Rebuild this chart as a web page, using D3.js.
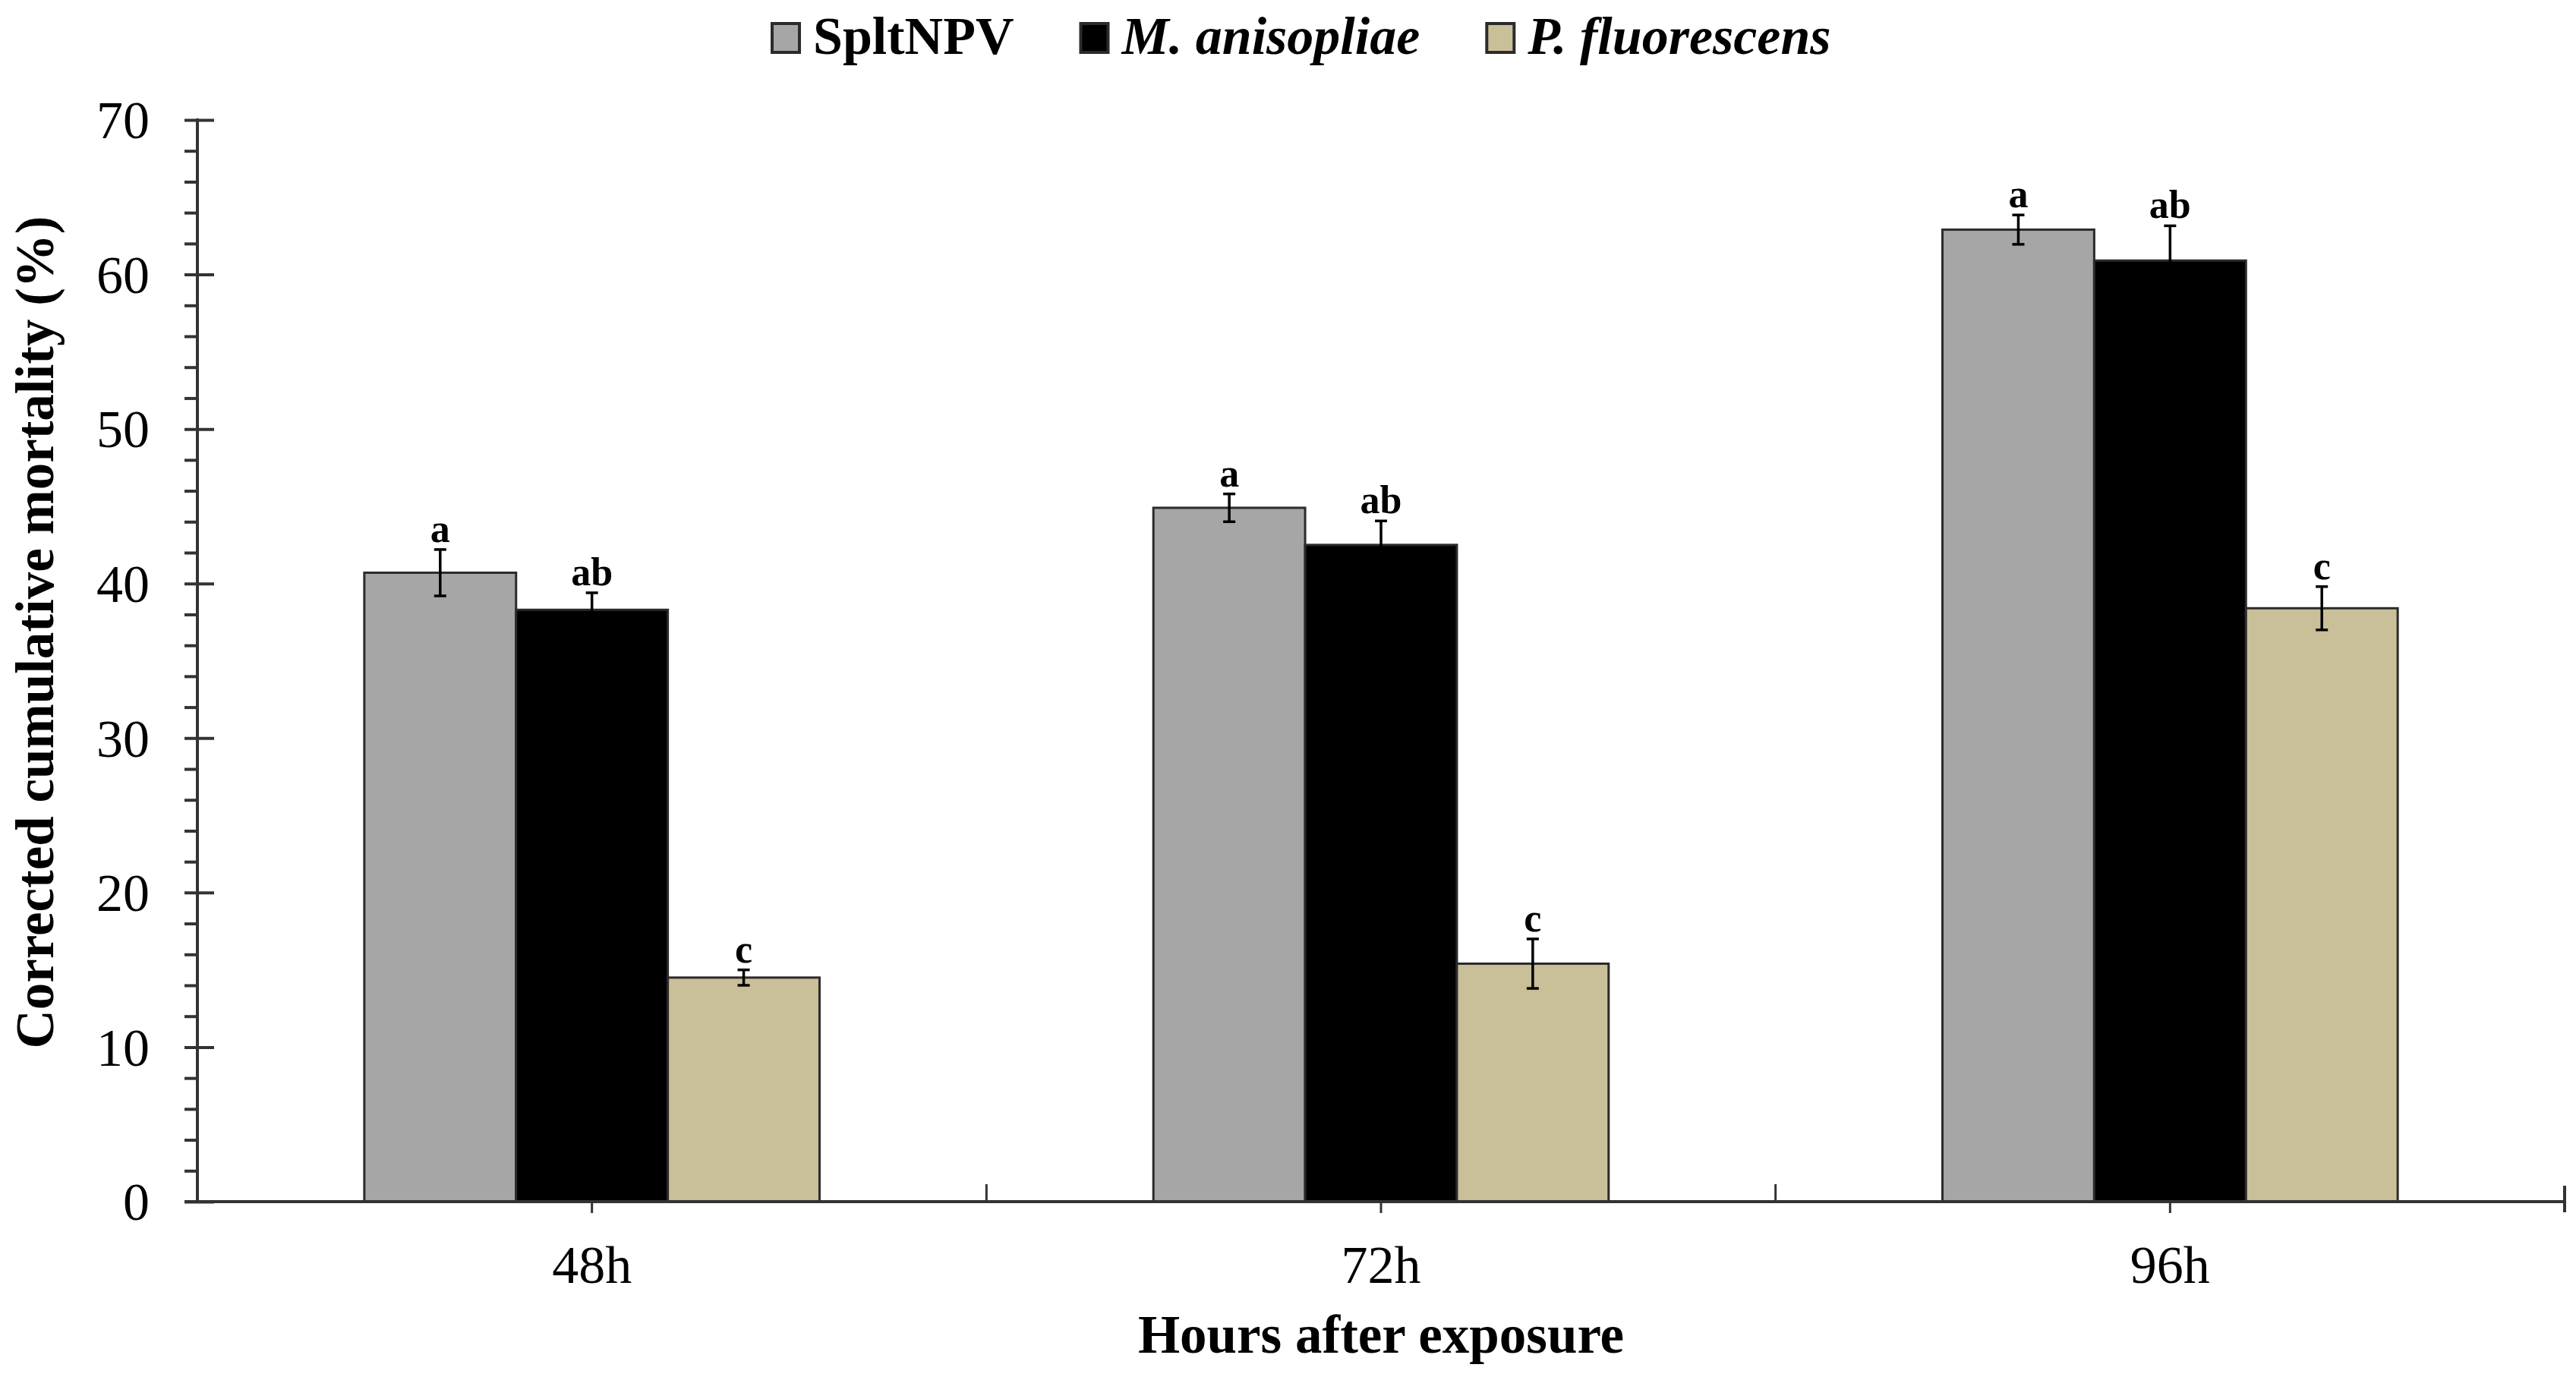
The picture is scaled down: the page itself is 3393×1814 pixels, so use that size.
<!DOCTYPE html>
<html>
<head>
<meta charset="utf-8">
<script src="https://cdn.jsdelivr.net/npm/d3@7"></script>
<style>
  body { margin: 0; background: #fff; }
  text { font-family: "Liberation Serif", "Times New Roman", serif; fill: #000; }
</style>
</head>
<body>
<script>
// data
const hours = ["48h", "72h", "96h"];
const series = ["SpltNPV", "M. anisopliae", "P. fluorescens"];
const spltnpv = [40.7, 44.9, 62.9];
const anisopliae = [38.3, 42.5, 60.9];
const fluorescens = [14.5, 15.4, 38.4];
const spltnpvErr = [1.5, 0.9, 0.95];
const anisopliaeErr = [1.1, 1.55, 2.25];
const fluorescensErr = [0.5, 1.6, 1.4];
const letters = ["a", "ab", "c"];
const yTicks = [0, 10, 20, 30, 40, 50, 60, 70];

const colors = ["#a6a6a6", "#000000", "#c9bf98"];
const italic = [false, true, true];

const W = 3393, H = 1814;
const margin = { top: 158, right: 15, bottom: 231, left: 260 };

const svg = d3.select("body").append("svg")
  .attr("width", W)
  .attr("height", H);

// scales
const x0 = d3.scaleBand()
  .domain(hours)
  .range([margin.left, W - margin.right])
  .paddingInner(0)
  .paddingOuter(0);

const x1 = d3.scaleBand()
  .domain(series)
  .range([0, x0.bandwidth()])
  .paddingInner(0)
  .paddingOuter(1.1);

const y = d3.scaleLinear()
  .domain([0, 70])
  .range([H - margin.bottom, margin.top]);

// build rows for bars
const values = [spltnpv, anisopliae, fluorescens];
const errs = [spltnpvErr, anisopliaeErr, fluorescensErr];
const rows = [];
hours.forEach((h, i) => {
  series.forEach((s, j) => {
    rows.push({ hour: h, series: s, idx: j, value: values[j][i], err: errs[j][i], letter: letters[j] });
  });
});

// bars
svg.append("g").selectAll("rect")
  .data(rows)
  .enter().append("rect")
  .attr("x", d => x0(d.hour) + x1(d.series))
  .attr("y", d => y(d.value))
  .attr("width", x1.bandwidth())
  .attr("height", d => y(0) - y(d.value))
  .attr("fill", d => colors[d.idx])
  .attr("stroke", "#2b2b2b")
  .attr("stroke-width", 3);

// error bars
const eb = svg.append("g").attr("stroke", "#000").attr("stroke-width", 3.5);
rows.forEach(d => {
  const cx = x0(d.hour) + x1(d.series) + x1.bandwidth() / 2;
  eb.append("line")
    .attr("x1", cx).attr("x2", cx)
    .attr("y1", y(d.value + d.err)).attr("y2", y(d.value - d.err));
  [d.value + d.err, d.value - d.err].forEach(v => {
    eb.append("line")
      .attr("x1", cx - 8).attr("x2", cx + 8)
      .attr("y1", y(v)).attr("y2", y(v));
  });
});

// significance letters
svg.append("g").selectAll("text")
  .data(rows)
  .enter().append("text")
  .attr("x", d => x0(d.hour) + x1(d.series) + x1.bandwidth() / 2)
  .attr("y", d => y(d.value + d.err) - 10)
  .attr("text-anchor", "middle")
  .attr("font-weight", "bold")
  .attr("font-size", 52)
  .text(d => d.letter);

// y axis
const axisColor = "#333";
const yAxis = svg.append("g")
  .attr("transform", "translate(" + margin.left + ",0)")
  .call(d3.axisLeft(y).tickValues(yTicks).tickSize(17).tickPadding(46));
yAxis.select(".domain").remove();
yAxis.selectAll(".tick line").attr("x2", -17).attr("x1", 22)
  .attr("stroke", axisColor).attr("stroke-width", 4);
yAxis.selectAll(".tick text")
  .attr("font-family", "Liberation Serif")
  .attr("font-size", 70)
  .attr("dy", "0.34em");

const minor = d3.range(0, 71, 2).filter(v => v % 10 !== 0);
const yMinor = svg.append("g")
  .attr("transform", "translate(" + margin.left + ",0)")
  .call(d3.axisLeft(y).tickValues(minor).tickSize(17).tickFormat(""));
yMinor.select(".domain").remove();
yMinor.selectAll(".tick line").attr("stroke", axisColor).attr("stroke-width", 4);

svg.append("line")
  .attr("x1", margin.left).attr("x2", margin.left)
  .attr("y1", y(70) - 2).attr("y2", y(0))
  .attr("stroke", axisColor).attr("stroke-width", 4);

// x axis
const [xa, xb] = x0.range();
const xg = svg.append("g").attr("stroke", axisColor).attr("stroke-width", 4);
xg.append("line")
  .attr("x1", xa - 17).attr("x2", xb)
  .attr("y1", y(0)).attr("y2", y(0));
hours.forEach((h, i) => {
  const c = x0(h) + x0.bandwidth() / 2;
  xg.append("line").attr("x1", c).attr("x2", c)
    .attr("y1", y(0)).attr("y2", y(0) + 15).attr("stroke-width", 3);
  if (i > 0) {
    xg.append("line").attr("x1", x0(h)).attr("x2", x0(h))
      .attr("y1", y(0)).attr("y2", y(0) - 23).attr("stroke-width", 3);
  }
});
xg.append("line").attr("x1", xb).attr("x2", xb)
  .attr("y1", y(0) - 21).attr("y2", y(0) + 14);

svg.append("g").selectAll("text")
  .data(hours)
  .enter().append("text")
  .attr("x", d => x0(d) + x0.bandwidth() / 2)
  .attr("y", y(0) + 107)
  .attr("text-anchor", "middle")
  .attr("font-size", 70)
  .text(d => d);

// axis titles
svg.append("text")
  .attr("x", (xa + xb) / 2)
  .attr("y", 1782)
  .attr("text-anchor", "middle")
  .attr("font-weight", "bold")
  .attr("font-size", 71)
  .text("Hours after exposure");

svg.append("text")
  .attr("transform", "translate(70,833) rotate(-90)")
  .attr("text-anchor", "middle")
  .attr("font-weight", "bold")
  .attr("font-size", 71)
  .text("Corrected cumulative mortality (%)");

// legend
const legend = svg.append("g");
let lx = 1017;
series.forEach((s, j) => {
  legend.append("rect")
    .attr("x", lx).attr("y", 31)
    .attr("width", 36).attr("height", 38)
    .attr("fill", colors[j])
    .attr("stroke", "#2b2b2b")
    .attr("stroke-width", 4);
  const t = legend.append("text")
    .attr("x", lx + 54).attr("y", 71)
    .attr("font-weight", "bold")
    .attr("font-style", italic[j] ? "italic" : "normal")
    .attr("font-size", 70)
    .text(s);
  lx += 54 + t.node().getComputedTextLength() + 88;
});
</script>
</body>
</html>
